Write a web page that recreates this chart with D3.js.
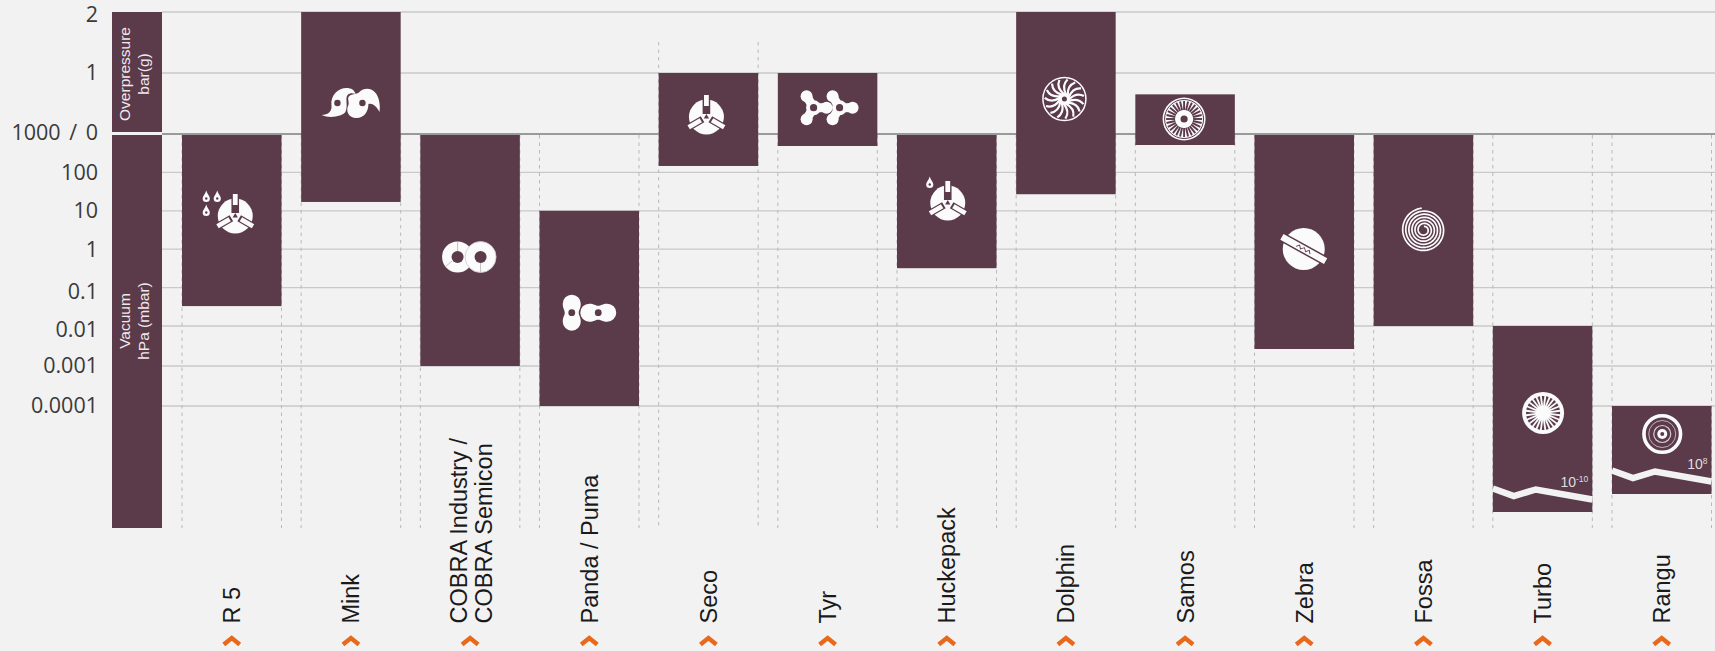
<!DOCTYPE html>
<html>
<head>
<meta charset="utf-8">
<script src="https://cdn.jsdelivr.net/npm/d3@7"></script>
<style>
  html, body { margin: 0; padding: 0; background: #f2f2f2; overflow: hidden; }
  svg { display: block; }
</style>
</head>
<body>
<svg id="chart" width="1715" height="651"></svg>
<script>
// Pump families, lines split by "|"
const pumps = ["R 5", "Mink", "COBRA Industry /|COBRA Semicon", "Panda / Puma", "Seco", "Tyr", "Huckepack",
    "Dolphin", "Samos", "Zebra", "Fossa", "Turbo", "Rangu"];
// Upper end of the range: overpressure in bar(g), or null when it sits in the vacuum part
const topBar = [0, 2, 0, null, 1, 1, 0, 2, 0.65, 0, 0, null, null];
const topMbar = [null, null, null, 10, null, null, null, null, null, null, null, 0.01, 0.0001];
// Lower end of the range in mbar
const bottomMbar = [0.033, 17, 0.001, 0.0001, 147, 487, 0.32, 27, 517, 0.00266, 0.01, 1e-10, 1e-8];
// Ranges that leave the axis and get the break mark
const brokenLabels = { "Turbo": "-10", "Rangu": "8" };

const barTicks = [2, 1];
const mbarTicks = [1000, 100, 10, 1, 0.1, 0.01, 0.001, 0.0001];
const tickNudge = { "2": 2.5, "0.1": 4, "0.01": 4, "1000": -1.5 };

const svg = d3.select("#chart");
const width = 1715;
const plotBottom = 528;
const bgColor = "#f2f2f2";
const barColor = "#5b3a4a";

const x = d3.scaleBand().domain(pumps).range([182, 1711.5]).paddingInner(0.165);
const yBar = d3.scaleLinear().domain([0, 2]).range([134, 12]);
// the decades below 0.01 are drawn a little wider in the original
const yMbar = d3.scaleLog().domain([1000, 0.01, 0.0001]).range([134, 326, 406]);
// below the break the axis is compressed
const yBroken = d3.scaleLog().domain([1e-8, 1e-10]).range([494, 512]);
const yVacuum = v => v >= 0.0001 ? yMbar(v) : yBroken(v);

// Grid
const grid = svg.append("g");
grid.selectAll(".grid-bar").data(barTicks).enter().append("line")
    .attr("x1", 162).attr("x2", width)
    .attr("y1", d => yBar(d)).attr("y2", d => yBar(d))
    .attr("stroke", "#c9c9c9").attr("stroke-width", 1.3);
grid.selectAll(".grid-mbar").data(mbarTicks.slice(1)).enter().append("line")
    .attr("x1", 162).attr("x2", width)
    .attr("y1", d => yMbar(d)).attr("y2", d => yMbar(d))
    .attr("stroke", "#c9c9c9").attr("stroke-width", 1.3);
grid.append("line")
    .attr("x1", 162).attr("x2", width)
    .attr("y1", yBar(0)).attr("y2", yBar(0))
    .attr("stroke", "#9a9a9a").attr("stroke-width", 2.2);

// Dashed guides on both sides of every column
pumps.forEach(p => {
    [x(p), x(p) + x.bandwidth()].forEach(px => {
        svg.append("line")
            .attr("x1", px).attr("x2", px)
            .attr("y1", p === "Seco" ? 42 : yBar(0) + 1).attr("y2", plotBottom)
            .attr("stroke", "#b9b9b9").attr("stroke-width", 1)
            .attr("stroke-dasharray", "3.5 4");
    });
});

// Axis labels
function styleAxis(g) {
    g.select(".domain").remove();
    g.selectAll("text")
        .attr("fill", "#3a3a3a")
        .style("font-family", "'Open Sans', sans-serif")
        .style("font-size", "21.5px")
        .style("word-spacing", "3px")
        .attr("transform", d => "translate(0," + (tickNudge[String(d)] || 0) + ")");
}
svg.append("g").attr("transform", "translate(98,0)")
    .call(d3.axisLeft(yBar).tickValues(barTicks).tickSize(0).tickPadding(0).tickFormat(d => String(d)))
    .call(styleAxis);
svg.append("g").attr("transform", "translate(98,0)")
    .call(d3.axisLeft(yMbar).tickValues(mbarTicks).tickSize(0).tickPadding(0)
        .tickFormat(d => d === 1000 ? "1000 / 0" : String(d)))
    .call(styleAxis);

// Left band with the two pressure regions
svg.append("rect").attr("x", 112).attr("width", 50)
    .attr("y", yBar(2)).attr("height", yBar(0) - 2 - yBar(2)).attr("fill", barColor);
svg.append("rect").attr("x", 112).attr("width", 50)
    .attr("y", yBar(0) + 1).attr("height", plotBottom - yBar(0) - 1).attr("fill", barColor);

function sideLabel(lines, cy) {
    const g = svg.append("g").attr("transform", "translate(134," + cy + ") rotate(-90)");
    lines.forEach((t, i) => {
        g.append("text").attr("text-anchor", "middle")
            .attr("y", (i - 0.5) * 19 + 5)
            .attr("fill", "#efe9ec")
            .style("font-family", "'Liberation Sans', Arial, sans-serif")
            .style("font-size", "15.5px")
            .text(t);
    });
}
sideLabel(["Overpressure", "bar(g)"], 74);
sideLabel(["Vacuum", "hPa (mbar)"], 321);

// Range bars
const rows = pumps.map((p, i) => ({
    name: p,
    top: topBar[i] === null ? yVacuum(topMbar[i]) : (topBar[i] === 0 ? yBar(0) + 1 : yBar(topBar[i])),
    bottom: yVacuum(bottomMbar[i])
}));

svg.selectAll(".range").data(rows).enter().append("rect")
    .attr("class", "range")
    .attr("x", d => x(d.name))
    .attr("width", x.bandwidth())
    .attr("y", d => d.top)
    .attr("height", d => d.bottom - d.top)
    .attr("fill", barColor);

// Break mark and the end value on the off-axis bars
const breakLine = d3.line();
rows.filter(d => brokenLabels[d.name]).forEach(d => {
    const l = x(d.name), w = x.bandwidth();
    svg.append("path")
        .attr("d", breakLine([[l, d.bottom - 23.5], [l + 21, d.bottom - 16], [l + 43, d.bottom - 22.5], [l + w, d.bottom - 12.5]]))
        .attr("fill", "none").attr("stroke", bgColor).attr("stroke-width", 6.5);
    const t = svg.append("text")
        .attr("text-anchor", "end")
        .attr("x", l + w - 4).attr("y", d.bottom - 25)
        .attr("fill", "#dedede")
        .style("font-family", "'Liberation Sans', Arial, sans-serif")
        .style("font-size", "14px");
    t.append("tspan").text("10");
    t.append("tspan").attr("dy", -5).style("font-size", "8.5px").text(brokenLabels[d.name]);
});

// Pump names under the chart with the orange marker
const nameGroups = svg.selectAll(".pump").data(pumps).enter().append("g")
    .attr("class", "pump")
    .attr("transform", d => "translate(" + (x(d) + x.bandwidth() / 2) + ",0)");
nameGroups.each(function(d) {
    const lines = d.split("|");
    lines.forEach((t, i) => {
        const base = lines.length > 1 ? (i === 0 ? -3.5 : 22) : 8.5;
        d3.select(this).append("text")
            .attr("transform", "translate(" + base + ",623.5) rotate(-90)")
            .attr("fill", "#1a1a1a")
            .style("font-family", "'Liberation Sans', Arial, sans-serif")
            .style("font-size", "23.5px")
            .text(t);
    });
});
nameGroups.append("path")
    .attr("d", d3.line()([[-8, 644.5], [0, 638], [8, 644.5]]))
    .attr("fill", "none").attr("stroke", "#e8691c").attr("stroke-width", 4.4);

// ---- pump symbols ----
const white = "#fbfbfb";

function icon(name, dx, cy) {
    return svg.append("g")
        .attr("transform", "translate(" + (x(name) + x.bandwidth() / 2 + dx) + "," + cy + ")")
        .attr("fill", white);
}

function drop(g, px, py) {
    g.append("path")
        .attr("transform", "translate(" + px + "," + py + ")")
        .attr("d", "M0,-6.5C1,-3 3.6,-1 3.6,1.5A3.6,3.6 0 1 1 -3.6,1.5C-3.6,-1 -1,-3 0,-6.5Z");
    g.append("circle").attr("cx", px).attr("cy", py + 1.5).attr("r", 1.2).attr("fill", barColor);
}

function vaneDisc(g) {
    g.append("circle").attr("r", 17.5);
    g.append("rect").attr("x", -3.8).attr("y", -19).attr("width", 7.6).attr("height", 16).attr("fill", barColor);
    g.append("rect").attr("x", -2.4).attr("y", -22).attr("width", 4.8).attr("height", 11);
    [120, 240].forEach(a => {
        const arm = g.append("g").attr("transform", "rotate(" + a + ")");
        arm.append("rect").attr("x", -3.6).attr("y", -19.5).attr("width", 7.2).attr("height", 15).attr("fill", barColor);
        arm.append("rect").attr("x", -2.4).attr("y", -20.5).attr("width", 4.8).attr("height", 14);
    });
    g.append("path").attr("d", d3.symbol(d3.symbolTriangle, 12)()).attr("fill", barColor);
}

function peanut(g, px, py, rot) {
    g.append("path")
        .attr("transform", "translate(" + px + "," + py + ") rotate(" + rot + ")")
        .attr("d", "M-9,-9C-4,-9 -3,-7 0,-7C3,-7 4,-9 9,-9A9,9 0 0 1 9,9C4,9 3,7 0,7C-3,7 -4,9 -9,9A9,9 0 0 1 -9,-9Z");
    g.append("circle").attr("cx", px).attr("cy", py).attr("r", 3.4).attr("fill", barColor);
}

function claw(g, px) {
    const c = g.append("g").attr("transform", "translate(" + px + ",0)");
    c.append("circle").attr("r", 7.5);
    [[-7, -11.5], [-7, 11.5], [13, 0]].forEach(e => {
        c.append("line").attr("x2", e[0]).attr("y2", e[1])
            .attr("stroke", white).attr("stroke-width", 9);
        c.append("circle").attr("cx", e[0]).attr("cy", e[1]).attr("r", 6);
    });
    c.append("circle").attr("r", 3.6).attr("fill", barColor);
}

// R 5
const r5 = icon("R 5", 3.5, 216);
vaneDisc(r5);
drop(r5, -29, -19); drop(r5, -18, -19); drop(r5, -29, -5);

// Mink
const mink = icon("Mink", -0.5, 103);
mink.append("path").attr("d", "M-29,12C-22,12 -18,8 -19,2C-20,-8 -12,-15 -4,-15C1,-15 4,-13 5,-9C0,-11 -4,-9 -4,-4C-4,0 -3,5 -5,9C-8,13 -20,16 -29,12Z");
mink.append("path").attr("d", "M-2,-6C1,-10 6,-8 9,-11C14,-16 22,-15 26,-9C29,-4 30,3 29,9C26,3 22,0 18,1C18,8 14,15 6,15C-2,15 -5,8 -2,2C-1,-1 -3,-3 -2,-6Z");
mink.append("circle").attr("cx", -13).attr("r", 3.2).attr("fill", barColor);
mink.append("circle").attr("cx", 12).attr("r", 3.2).attr("fill", barColor);

// COBRA
const cobra = icon(pumps[2], -1, 257);
[-11.5, 11.5].forEach((cx, i) => {
    cobra.append("circle").attr("cx", cx).attr("r", 15.5)
        .attr("stroke", i ? "#cfc6ca" : "none").attr("stroke-width", 0.8);
    cobra.append("circle").attr("cx", cx).attr("r", 6).attr("fill", barColor);
});
cobra.append("path").attr("d", "M-11.5,-15.5V-6M-17,4L-24,10M11.5,6V15.5")
    .attr("stroke", "#bdb1b7").attr("stroke-width", 0.8).attr("fill", "none");

// Panda
const panda = icon("Panda / Puma", 0, 312.7);
peanut(panda, -17.5, 0, 90);
peanut(panda, 9, 0, 0);

// Seco
vaneDisc(icon("Seco", -2, 117));

// Tyr
const tyr = icon("Tyr", 0, 107.7);
claw(tyr, -14);
claw(tyr, 12);

// Huckepack
const huck = icon("Huckepack", 1, 203);
vaneDisc(huck);
drop(huck, -18, -20);

// Dolphin
const dolphin = icon("Dolphin", -1.5, 99);
dolphin.append("circle").attr("r", 21.5).attr("fill", "none").attr("stroke", white).attr("stroke-width", 1.5);
d3.range(15).forEach(i => {
    dolphin.append("path")
        .attr("transform", "rotate(" + (i * 24) + ")")
        .attr("d", "M5,0C9,-4 14,-6 19.5,-3")
        .attr("fill", "none").attr("stroke", white).attr("stroke-width", 2.2);
});
dolphin.append("circle").attr("r", 6);
dolphin.append("circle").attr("r", 2.5).attr("fill", barColor);

// Samos
const samos = icon("Samos", -1, 119);
samos.append("circle").attr("r", 21.5);
samos.append("circle").attr("r", 19.5).attr("fill", "none").attr("stroke", barColor).attr("stroke-width", 1);
d3.range(28).forEach(i => {
    samos.append("line").attr("y1", -9).attr("y2", -18)
        .attr("transform", "rotate(" + (i * 360 / 28) + ")")
        .attr("stroke", barColor).attr("stroke-width", 1.9);
});
samos.append("circle").attr("r", 3.6).attr("fill", barColor);

// Zebra
const zebra = icon("Zebra", -0.5, 249);
zebra.append("circle").attr("r", 21);
const band = zebra.append("g").attr("transform", "rotate(29)");
band.append("rect").attr("x", -25).attr("y", -4.8).attr("width", 50).attr("height", 9.6).attr("fill", barColor);
band.append("rect").attr("x", -25).attr("y", -3.3).attr("width", 50).attr("height", 6.6);
band.append("path").attr("d", "M-8,1.5L-5.5,-1.5L-3,1.5L0,-1.5L3,1.5L5.5,-1.5L8,1.5")
    .attr("fill", "none").attr("stroke", barColor).attr("stroke-width", 0.9);

// Fossa
const fossa = icon("Fossa", 0.5, 230);
const spiralAngles = d3.range(0, 6 * 2 * Math.PI, 0.1);
fossa.append("path")
    .attr("d", d3.lineRadial().angle(a => a).radius(a => 3.5 + a * 18.5 / (6 * 2 * Math.PI))(spiralAngles))
    .attr("fill", "none").attr("stroke", white).attr("stroke-width", 1.7);

// Turbo
const turbo = icon("Turbo", 0.5, 413);
turbo.append("circle").attr("r", 21);
d3.range(24).forEach(i => {
    turbo.append("path")
        .attr("transform", "rotate(" + (i * 15) + ")")
        .attr("d", "M0,-7L1.3,-17L-1.3,-17Z")
        .attr("fill", barColor);
});

// Rangu
const rangu = icon("Rangu", 0.5, 434);
rangu.append("circle").attr("r", 18.3).attr("fill", "none").attr("stroke", white).attr("stroke-width", 3.6);
rangu.append("circle").attr("r", 13.5).attr("fill", "none").attr("stroke", "#d9cfd4").attr("stroke-width", 0.8);
rangu.append("circle").attr("r", 8.5).attr("fill", "none").attr("stroke", "#d9cfd4").attr("stroke-width", 1.2);
rangu.append("circle").attr("r", 5);
rangu.append("circle").attr("r", 2).attr("fill", barColor);
</script>
</body>
</html>
